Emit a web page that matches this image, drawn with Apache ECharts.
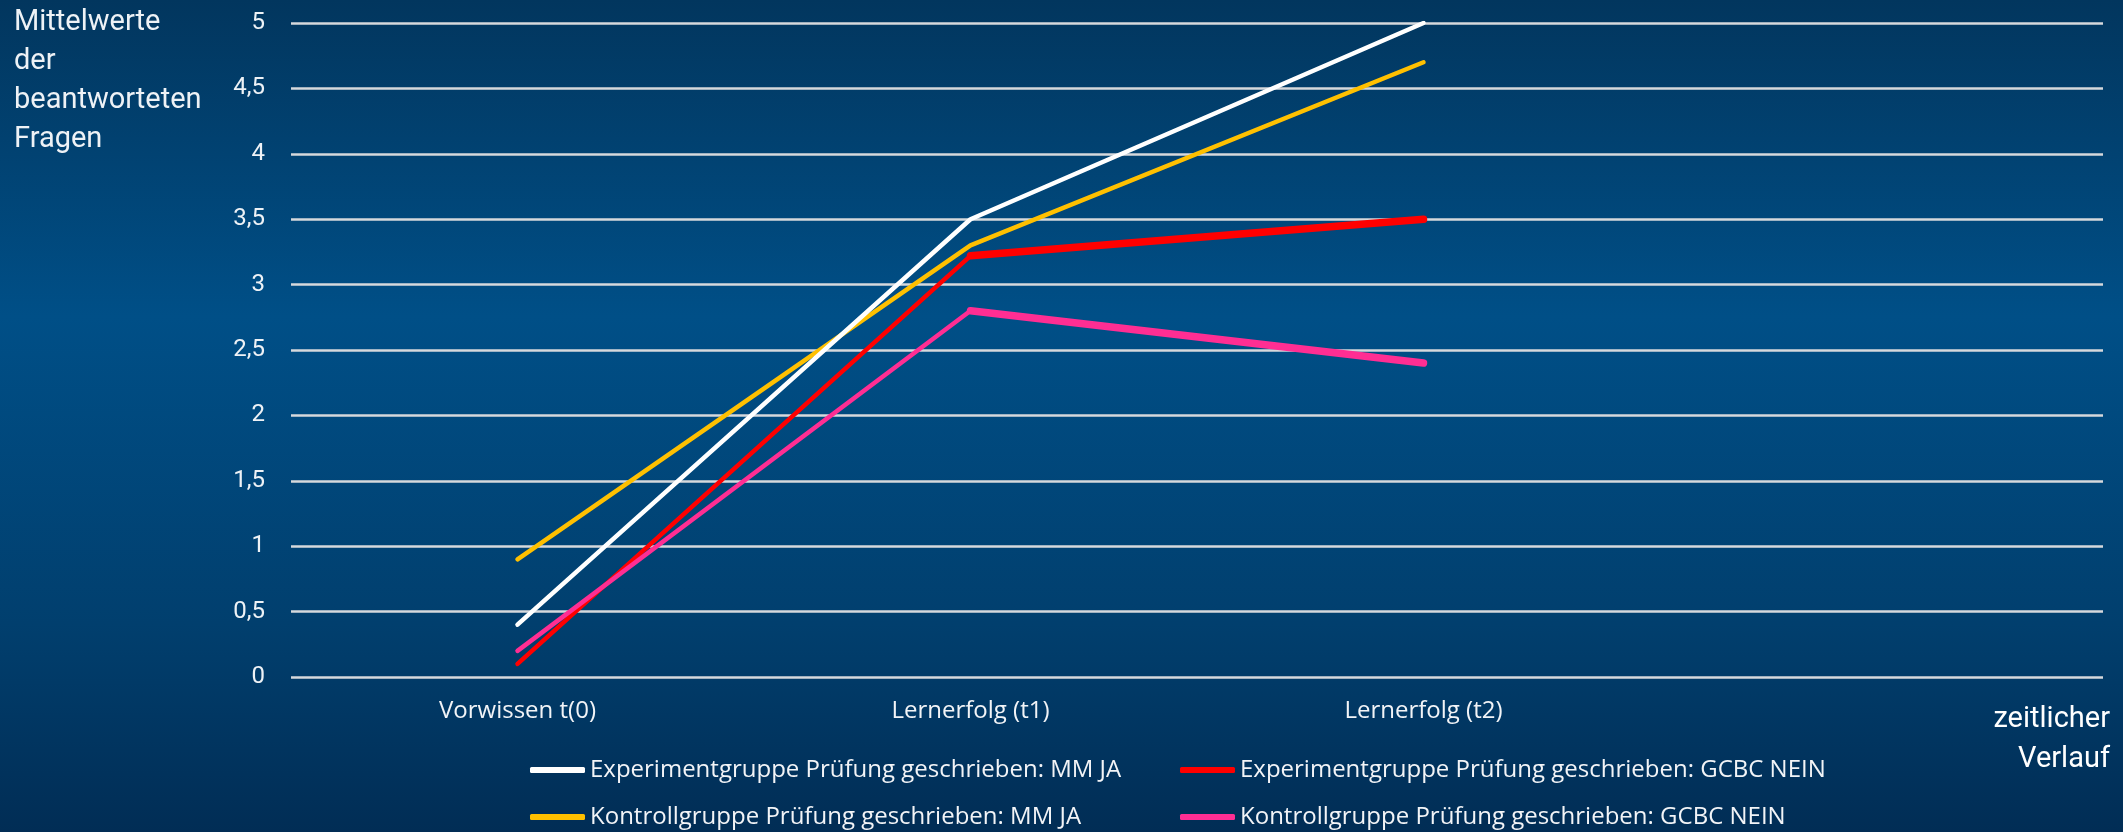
<!DOCTYPE html>
<html>
<head>
<meta charset="utf-8">
<script src="https://cdn.jsdelivr.net/npm/echarts@6/dist/echarts.min.js"></script>
<style>
  html, body { margin: 0; padding: 0; }
  #chart { width: 2123px; height: 832px; }
</style>
</head>
<body>
<div id="chart"></div>
<script>
// Zeitpunkte der Messung (letzte Spalte bleibt leer, Platz bis zum Achsenende)
const categories = ['Vorwissen t(0)', 'Lernerfolg (t1)', 'Lernerfolg (t2)', ''];

// Mittelwerte der beantworteten Fragen je Gruppe
const expMmJa      = [0.4, 3.5, 5.0];
const kontMmJa     = [0.9, 3.3, 4.7];
const expGcbcNein  = [0.1, 3.22, 3.5];
const kontGcbcNein = [0.2, 2.8, 2.4];

const seriesNames = [
  'Experimentgruppe Prüfung geschrieben: MM JA',
  'Kontrollgruppe Prüfung geschrieben: MM JA',
  'Experimentgruppe Prüfung geschrieben: GCBC NEIN',
  'Kontrollgruppe Prüfung geschrieben: GCBC NEIN'
];
const seriesColors = ['#ffffff', '#ffc000', '#ff0000', '#ff2e93'];
const seriesData = [expMmJa, kontMmJa, expGcbcNein, kontGcbcNein];

const yTicks = { min: 0, max: 5, interval: 0.5 };

const condensed = '"Open Sans", "Liberation Sans Narrow", sans-serif';
const din = 'Roboto, "DejaVu Sans", sans-serif';

const mainSeries = seriesData.map((d, i) => ({
  name: seriesNames[i],
  type: 'line',
  data: d,
  symbol: 'none',
  z: 3 + (i === 0 ? 1 : 0),
  lineStyle: { color: seriesColors[i], width: 4.5, cap: 'round', join: 'round' },
  itemStyle: { color: seriesColors[i] }
}));

// t1 -> t2 Abschnitt der GCBC-Gruppen etwas kräftiger gezeichnet
const thickSegments = [2, 3].map(i => ({
  name: seriesNames[i] + ' (t1-t2)',
  type: 'line',
  data: seriesData[i].map((v, k) => (k >= 1 ? v : null)),
  symbol: 'none',
  silent: true,
  z: 3,
  lineStyle: { color: seriesColors[i], width: 7.5, cap: 'round', join: 'round' }
}));

const legendBase = {
  orient: 'vertical',
  top: 755,
  padding: 0,
  itemGap: 17,
  itemWidth: 55,
  itemHeight: 6,
  icon: 'roundRect',
  textStyle: { fontFamily: condensed, fontSize: 24, color: '#f2f4f7', lineHeight: 30 }
};

const chart = echarts.init(document.getElementById('chart'), null, { renderer: 'canvas' });

chart.setOption({
  backgroundColor: {
    type: 'linear', x: 0, y: 0, x2: 0, y2: 1,
    colorStops: [
      { offset: 0, color: '#02365e' },
      { offset: 0.38, color: '#004f87' },
      { offset: 0.75, color: '#013f6e' },
      { offset: 1, color: '#012d55' }
    ]
  },
  animation: false,
  title: {
    text: 'Mittelwerte\nder\nbeantworteten\nFragen',
    left: 14,
    top: 3,
    padding: 0,
    textStyle: {
      fontFamily: din,
      fontSize: 29,
      fontWeight: 'normal',
      lineHeight: 39,
      color: '#eef2f6'
    }
  },
  grid: { left: 291, right: 20, top: 23, bottom: 155, containLabel: false },
  legend: [
    Object.assign({}, legendBase, { data: [seriesNames[0], seriesNames[1]], left: 530 }),
    Object.assign({}, legendBase, { data: [seriesNames[2], seriesNames[3]], left: 1180 })
  ],
  xAxis: {
    type: 'category',
    data: categories,
    boundaryGap: true,
    axisLine: { show: false },
    axisTick: { show: false },
    axisLabel: {
      margin: 22,
      fontFamily: condensed,
      fontSize: 24,
      color: '#f2f4f7'
    },
    name: 'zeitlicher\nVerlauf',
    nameLocation: 'end',
    nameGap: 7,
    nameTextStyle: {
      fontFamily: din,
      fontSize: 29,
      lineHeight: 40,
      color: '#ffffff',
      align: 'right',
      verticalAlign: 'top',
      padding: [23, 0, 0, 0]
    }
  },
  yAxis: {
    type: 'value',
    min: yTicks.min,
    max: yTicks.max,
    interval: yTicks.interval,
    axisLine: { show: false },
    axisTick: { show: false },
    axisLabel: {
      margin: 26,
      fontFamily: din,
      fontSize: 24,
      color: '#eef2f6',
      formatter: v => String(v).replace('.', ',')
    },
    splitLine: { lineStyle: { color: '#d6d9dc', width: 2.5 } }
  },
  series: [...thickSegments, ...mainSeries]
});
</script>
</body>
</html>
